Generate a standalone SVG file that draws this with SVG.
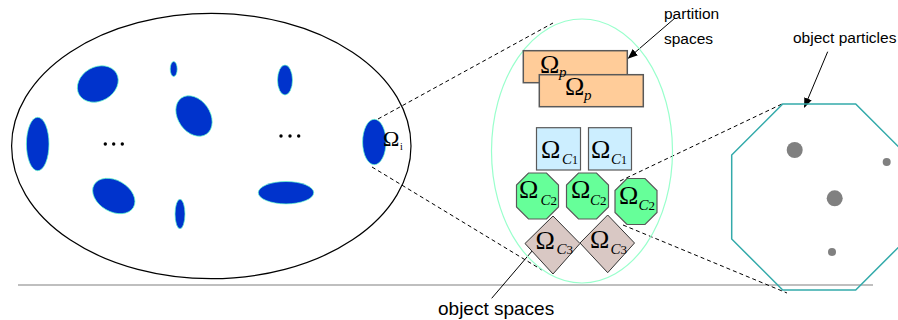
<svg xmlns="http://www.w3.org/2000/svg" width="898" height="320" viewBox="0 0 898 320">
<style>
.blob{fill:#0033cc;stroke:#66ffcc;stroke-width:0.7}
.dash{fill:none;stroke:#000;stroke-width:1;stroke-dasharray:4 3}
.arr{fill:none;stroke:#000;stroke-width:1;marker-end:url(#ah)}
.om{font-family:"Liberation Serif","DejaVu Serif",serif;font-size:26px;fill:#000}
.sub{font-family:"Liberation Serif","DejaVu Serif",serif;font-style:italic;font-size:15px;fill:#000}
.num{font-style:normal;font-size:12px}
.lbl{font-family:"Liberation Sans",Arial,sans-serif;font-size:15.5px;fill:#000}
.part{fill:#ffcc99;stroke:#595959;stroke-width:1.5}
.c1{fill:#cceeff;stroke:#595959;stroke-width:1.2}
.c2{fill:#66ff99;stroke:#595959;stroke-width:1.2}
.c3{fill:#d9c8c4;stroke:#333;stroke-width:1}
.dot{fill:#000}
.prt{fill:#808080}
</style>
<defs>
<marker id="ah" markerWidth="10" markerHeight="8" refX="9" refY="4" orient="auto" markerUnits="userSpaceOnUse">
<path d="M0,0 L10,4 L0,8 Z" fill="#000"/>
</marker>
<polygon id="oct" points="12,0 30,0 42,12 42,34 30,46 12,46 0,34 0,12"/>
</defs>

<line x1="18" y1="285" x2="873" y2="285" stroke="#bfbfbf" stroke-width="2"/>

<g id="domain">
<ellipse cx="211.3" cy="146" rx="199.7" ry="132.7" fill="none" stroke="#000" stroke-width="1.2"/>
<ellipse class="blob" cx="97.8" cy="84" rx="21.5" ry="17" transform="rotate(-30 97.8 84)"/>
<ellipse class="blob" cx="173.7" cy="69" rx="3.5" ry="7.5"/>
<ellipse class="blob" cx="194" cy="116" rx="22" ry="16" transform="rotate(55 194 116)"/>
<ellipse class="blob" cx="285" cy="80" rx="7.5" ry="15"/>
<ellipse class="blob" cx="37.7" cy="144" rx="11.3" ry="26.7"/>
<ellipse class="blob" cx="113.8" cy="196" rx="22.7" ry="15.7" transform="rotate(30 113.8 196)"/>
<ellipse class="blob" cx="180" cy="214" rx="5" ry="14.7"/>
<ellipse class="blob" cx="286" cy="192.7" rx="27.7" ry="11.2"/>
<circle class="dot" cx="105.3" cy="144" r="1.7"/>
<circle class="dot" cx="113.7" cy="144" r="1.7"/>
<circle class="dot" cx="122.3" cy="144" r="1.7"/>
<circle class="dot" cx="281" cy="136" r="1.7"/>
<circle class="dot" cx="290" cy="136" r="1.7"/>
<circle class="dot" cx="298.7" cy="136" r="1.7"/>
</g>

<g id="omega-i">
<ellipse class="blob" cx="374.3" cy="142" rx="11.7" ry="22.7"/>
<text x="383" y="146" style="font-family:'Liberation Serif',serif;font-size:22px">Ω<tspan x="400" y="149.5" style="font-size:10px">i</tspan></text>
</g>

<g id="connectors">
<line class="dash" x1="378" y1="119" x2="553" y2="23"/>
<line class="dash" x1="372" y1="167" x2="542" y2="270"/>
<line class="dash" x1="620" y1="181" x2="782" y2="104"/>
<line class="dash" x1="623" y1="225" x2="787" y2="293"/>
<line class="arr" x1="675" y1="18" x2="628.5" y2="58"/>
<line class="arr" x1="827.7" y1="51.7" x2="804.5" y2="107"/>
<line class="arr" x1="491.7" y1="298.3" x2="538.5" y2="243.5"/>
</g>

<g id="subdomain">
<ellipse cx="582" cy="151" rx="90.5" ry="132" fill="none" stroke="#99ffcc" stroke-width="1.2"/>
</g>

<g id="partition1">
<rect class="part" x="523.3" y="50.7" width="104" height="32"/>
</g>
<g id="partition2">
<rect class="part" x="539.3" y="74.7" width="104" height="32"/>
<text class="om" x="565" y="95">Ω<tspan class="sub" x="584" y="100">p</tspan></text>
</g>
<g id="partition1-label">
<text class="om" x="540" y="73">Ω<tspan class="sub" x="559" y="77">p</tspan></text>
</g>

<g id="c1a">
<rect class="c1" x="536.5" y="127.7" width="44" height="42.3"/>
<text class="om" x="541" y="157.5">Ω<tspan class="sub" x="562" y="163.5">C<tspan class="num">1</tspan></tspan></text>
</g>
<g id="c1b">
<rect class="c1" x="588.5" y="127.7" width="43" height="42.3"/>
<text class="om" x="591" y="157.5">Ω<tspan class="sub" x="611" y="163.5">C<tspan class="num">1</tspan></tspan></text>
</g>

<g id="c2a">
<use href="#oct" class="c2" transform="translate(516.5 173)"/>
<text class="om" x="519" y="197.5">Ω<tspan class="sub" x="540.5" y="205">C<tspan class="num" style="font-size:13px">2</tspan></tspan></text>
</g>
<g id="c2b">
<use href="#oct" class="c2" transform="translate(566.5 173)"/>
<text class="om" x="571" y="197.5">Ω<tspan class="sub" x="590" y="205">C<tspan class="num" style="font-size:13px">2</tspan></tspan></text>
</g>
<g id="c2c">
<use href="#oct" class="c2" transform="translate(615 178.5)"/>
<text class="om" x="619" y="203.5">Ω<tspan class="sub" x="638.5" y="210">C<tspan class="num" style="font-size:13px">2</tspan></tspan></text>
</g>

<g id="c3a">
<polygon class="c3" points="553,216 580,243.5 553,274 525,243.5"/>
<text class="om" x="535.5" y="248.5">Ω<tspan class="sub" x="556.5" y="254">C<tspan class="num" style="font-size:13px">3</tspan></tspan></text>
</g>
<g id="c3b">
<polygon class="c3" points="607.7,215 634.5,243 607.7,272.7 580,243"/>
<text class="om" x="590" y="248">Ω<tspan class="sub" x="610.5" y="253.5">C<tspan class="num" style="font-size:13px">3</tspan></tspan></text>
</g>

<g id="particles">
<polygon points="782.7,104 855.7,104 906.7,155 906.7,239 855.7,290 782.7,290 731.7,239 731.7,155" fill="none" stroke="#33aaaa" stroke-width="1.5"/>
<circle class="prt" cx="794.7" cy="150" r="8"/>
<circle class="prt" cx="886.7" cy="162" r="4"/>
<circle class="prt" cx="834.7" cy="198.3" r="8"/>
<circle class="prt" cx="832" cy="252" r="4"/>
</g>

<g id="labels">
<text class="lbl" x="664" y="19">partition</text>
<text class="lbl" x="664" y="43.5">spaces</text>
<text class="lbl" x="793" y="43">object particles</text>
<text class="lbl" x="438" y="315" style="font-size:19px">object spaces</text>
</g>
</svg>
